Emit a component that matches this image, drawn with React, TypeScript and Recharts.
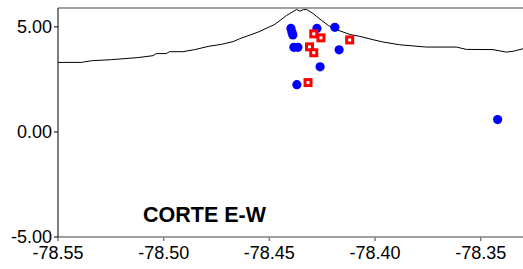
import React from "react";
import { ComposedChart, Line, Scatter, XAxis, YAxis } from "recharts";

const profileLon = [
  -78.55, -78.539, -78.5342, -78.5248, -78.5122, -78.5051, -78.5035, -78.4988, -78.4972, -78.4909,
  -78.4853, -78.479, -78.4727, -78.4672, -78.464, -78.4554, -78.4474, -78.4418, -78.4371, -78.4355,
  -78.434, -78.4324, -78.4292, -78.4253, -78.4221, -78.4182, -78.4119, -78.4072, -78.4009, -78.3962,
  -78.3883, -78.3757, -78.3615, -78.3568, -78.3442, -78.3379, -78.3347, -78.33,
];
const profileElev = [
  3.31, 3.31, 3.39, 3.44, 3.54, 3.63, 3.73, 3.73, 3.82, 3.82,
  3.92, 4.07, 4.17, 4.3, 4.44, 4.75, 5.12, 5.55, 5.83, 5.75,
  5.82, 5.83, 5.63, 5.31, 5.07, 4.87, 4.64, 4.55, 4.39, 4.28,
  4.15, 4.04, 4.04, 3.93, 3.92, 3.8, 3.84, 3.96,
];

const sismoLon = [-78.4398, -78.4393, -78.4389, -78.4275, -78.419, -78.4384, -78.4365, -78.417, -78.426, -78.437, -78.342];
const sismoZ = [4.93, 4.74, 4.62, 4.93, 4.98, 4.03, 4.03, 3.91, 3.1, 2.25, 0.59];

const estLon = [-78.429, -78.4256, -78.412, -78.431, -78.429, -78.4317];
const estZ = [4.67, 4.48, 4.38, 4.05, 3.77, 2.35];

const xTicks = [-78.55, -78.5, -78.45, -78.4, -78.35];
const yTicks = [-5, 0, 5];
const title = "CORTE E-W";

const profileData = profileLon.map((x, i) => ({ x, y: profileElev[i] }));
const sismoData = sismoLon.map((x, i) => ({ x, y: sismoZ[i] }));
const estData = estLon.map((x, i) => ({ x, y: estZ[i] }));

const fmt = (v: number) => v.toFixed(2);

const tickStyle = { fill: "#000", fontSize: 18, fontFamily: "Liberation Sans, Arial, sans-serif" };

const BlueDot = (props: any) => {
  const { cx, cy } = props;
  return <circle cx={cx} cy={cy} r={4.6} fill="#0000ff" />;
};

const RedSquare = (props: any) => {
  const { cx, cy } = props;
  return (
    <g>
      <rect x={cx - 4.5} y={cy - 4.5} width={9} height={9} fill="#ff0000" />
      <rect x={cx - 1.5} y={cy - 1.5} width={3} height={3} fill="#ffffff" />
    </g>
  );
};

export default function App() {
  return (
    <div style={{ position: "fixed", left: 0, top: 0, width: 523, height: 269, background: "#fff" }}>
      <ComposedChart width={523} height={269} margin={{ top: 7, right: 0, bottom: 0, left: 0 }}>
        <XAxis
          xAxisId="bottom"
          type="number"
          dataKey="x"
          domain={[-78.55, -78.33]}
          allowDataOverflow
          ticks={xTicks}
          tickFormatter={fmt}
          height={32}
          stroke="#808080"
          strokeWidth={1.5}
          tickSize={4}
          tickMargin={5}
          tick={tickStyle}
          interval={0}
        />
        <XAxis
          xAxisId="top"
          orientation="top"
          type="number"
          dataKey="x"
          domain={[-78.55, -78.33]}
          allowDataOverflow
          ticks={xTicks}
          height={1}
          stroke="#808080"
          strokeWidth={1.5}
          tickSize={3}
          tick={false}
          interval={0}
        />
        <YAxis
          type="number"
          dataKey="y"
          domain={[-5, 5.9]}
          allowDataOverflow
          ticks={yTicks}
          tickFormatter={fmt}
          width={58}
          stroke="#000"
          tickSize={4}
          tickMargin={2}
          tick={tickStyle}
          interval={0}
        />
        <Line
          xAxisId="bottom"
          data={profileData}
          dataKey="y"
          type="linear"
          stroke="#000"
          strokeWidth={1}
          dot={false}
          activeDot={false}
          isAnimationActive={false}
        />
        <Scatter xAxisId="bottom" data={sismoData} dataKey="y" shape={BlueDot} isAnimationActive={false} />
        <Scatter xAxisId="top" data={estData} dataKey="y" shape={RedSquare} isAnimationActive={false} />
      </ComposedChart>
      <svg
        width={523}
        height={269}
        style={{ position: "absolute", left: 0, top: 0, pointerEvents: "none" }}
      >
        <text
          x={143}
          y={222}
          fontFamily="Liberation Sans, Arial, sans-serif"
          fontWeight="bold"
          fontSize={21.5}
          fill="#000"
        >
          {title}
        </text>
      </svg>
    </div>
  );
}
